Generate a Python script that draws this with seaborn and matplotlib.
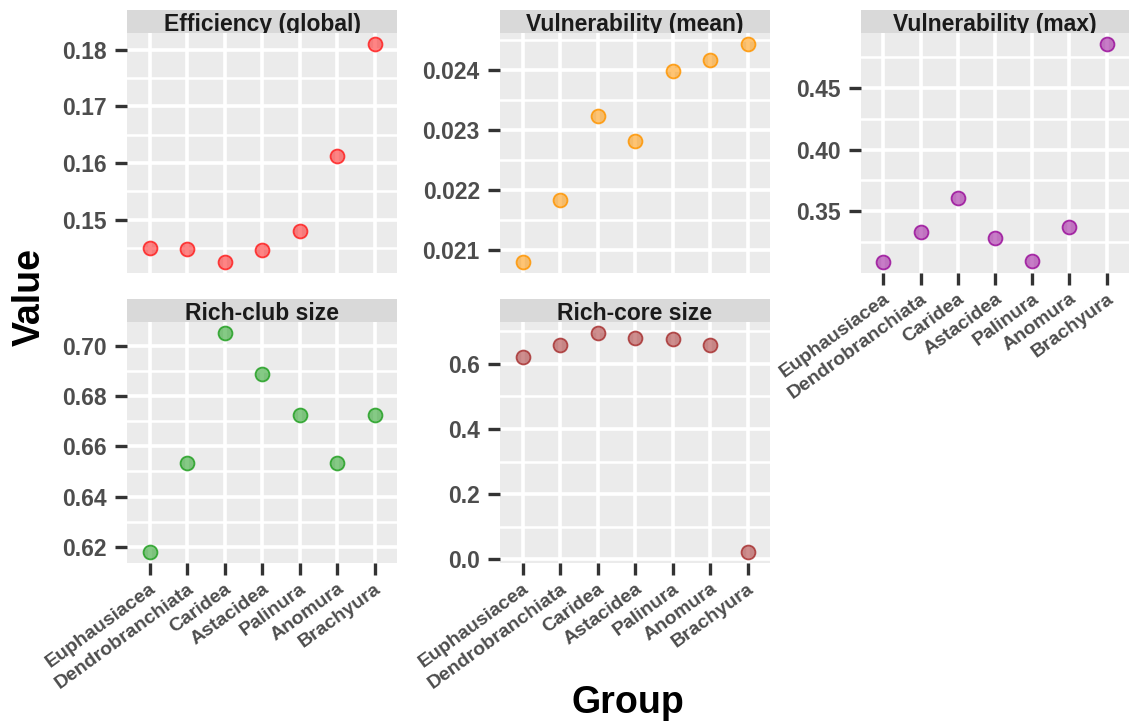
import numpy as np
import pandas as pd
import matplotlib
matplotlib.use("Agg")
import matplotlib.pyplot as plt
import seaborn as sns
from matplotlib.colors import to_rgba
from matplotlib.ticker import MultipleLocator, FormatStrFormatter, AutoMinorLocator

# data
groups = ["Euphausiacea", "Dendrobranchiata", "Caridea", "Astacidea",
          "Palinura", "Anomura", "Brachyura"]
efficiency_global = [0.1449, 0.1448, 0.1425, 0.1446, 0.1479, 0.1612, 0.1810]
vulnerability_mean = [0.02080, 0.02183, 0.02323, 0.02282, 0.02398, 0.02417, 0.02444]
vulnerability_max = [0.3089, 0.3333, 0.3610, 0.3282, 0.3094, 0.3376, 0.4855]
rich_club_size = [0.6179, 0.6534, 0.7052, 0.6890, 0.6726, 0.6534, 0.6724]
rich_core_size = [0.620, 0.657, 0.695, 0.680, 0.676, 0.657, 0.022]

metrics = ["Efficiency (global)", "Vulnerability (mean)", "Vulnerability (max)",
           "Rich-club size", "Rich-core size"]
colors = ["#FF2020", "#FF9500", "#9B109B", "#22A022", "#A83232"]
steps = [0.01, 0.001, 0.05, 0.02, 0.2]
fmts = ["%.2f", "%.3f", "%.2f", "%.2f", "%.1f"]

df = pd.DataFrame({
    "Group": groups * 5,
    "Metric": np.repeat(metrics, len(groups)),
    "Value": efficiency_global + vulnerability_mean + vulnerability_max
             + rich_club_size + rich_core_size,
})

sns.set_style("darkgrid", {"axes.facecolor": "#EBEBEB", "grid.color": "white"})
plt.rcParams["font.family"] = ["Liberation Sans", "DejaVu Sans"]

W, H = 1130, 726
fig = plt.figure(figsize=(W / 100, H / 100), dpi=100)

# panel boxes in pixels: left, top, right, bottom
boxes = [(127, 33, 397, 273), (500, 33, 770, 273), (861, 33, 1129, 273),
         (127, 322, 397, 563), (500, 322, 770, 563)]
strip_h = 23
show_x = [False, False, True, True, True]

for i, metric in enumerate(metrics):
    l, t, r, b = boxes[i]
    ax = fig.add_axes([l / W, 1 - b / H, (r - l) / W, (b - t) / H])
    sub = df[df["Metric"] == metric]
    sns.stripplot(data=sub, x="Group", y="Value", order=groups, jitter=False,
                  size=10, linewidth=1.3, color=colors[i], ax=ax, zorder=3)
    for pts in ax.collections:
        pts.set_facecolor(to_rgba(colors[i], 0.55))
        pts.set_edgecolor(to_rgba(colors[i], 0.85))

    vals = sub["Value"].to_numpy()
    pad = (vals.max() - vals.min()) * 0.05
    ax.set_ylim(vals.min() - pad, vals.max() + pad)
    ax.set_xlim(-0.6, 6.6)

    ax.yaxis.set_major_locator(MultipleLocator(steps[i]))
    ax.yaxis.set_minor_locator(AutoMinorLocator(2))
    ax.yaxis.set_major_formatter(FormatStrFormatter(fmts[i]))
    ax.set_axisbelow(True)
    ax.grid(which="major", axis="both", color="white", linewidth=2.6)
    ax.grid(which="minor", axis="y", color="white", linewidth=1.8)
    for s in ax.spines.values():
        s.set_visible(False)
    ax.set_xlabel("")
    ax.set_ylabel("")

    ax.tick_params(axis="y", which="major", length=8.5, width=2.4, color="#333333",
                   pad=6, labelsize=16.5, labelcolor="#4D4D4D", left=True)
    ax.tick_params(axis="y", which="minor", length=0)
    for lab in ax.get_yticklabels():
        lab.set_fontweight("bold")

    if show_x[i]:
        ax.tick_params(axis="x", length=8.5, width=2.4, color="#333333", pad=4,
                       labelsize=14, labelcolor="#4D4D4D", bottom=True)
        ax.set_xticks(range(len(groups)))
        ax.set_xticklabels(groups, rotation=36, ha="right", rotation_mode="anchor",
                           fontweight="bold")
    else:
        ax.tick_params(axis="x", length=0, labelbottom=False)

    # facet strip
    sax = fig.add_axes([l / W, 1 - t / H, (r - l) / W, strip_h / H])
    sax.set_facecolor("#D9D9D9")
    sax.set_xticks([])
    sax.set_yticks([])
    sax.grid(False)
    for s in sax.spines.values():
        s.set_visible(False)
    sax.text(0.5, 0.08, metric, ha="center", va="baseline", fontsize=16.5,
             fontweight="bold", color="#1A1A1A", transform=sax.transAxes,
             clip_on=True)

fig.text(30 / W, 1 - 297 / H, "Value", rotation=90, ha="center", va="center",
         fontsize=27, fontweight="bold", color="black")
fig.text(628 / W, 1 - 703 / H, "Group", ha="center", va="center",
         fontsize=27, fontweight="bold", color="black")

fig.savefig("out.png", dpi=100)
